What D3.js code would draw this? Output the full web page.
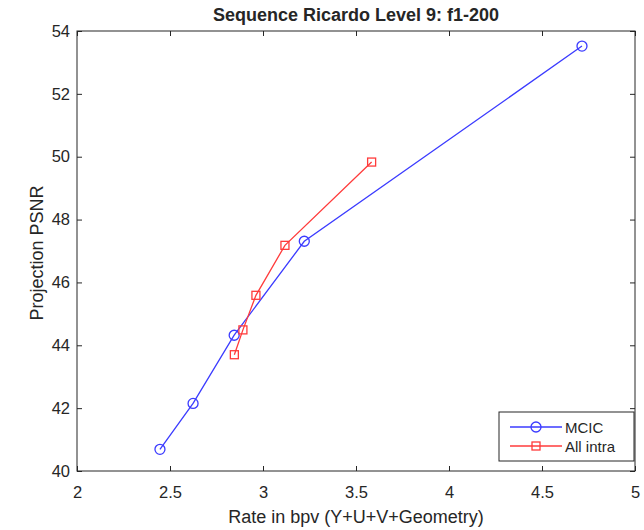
<!DOCTYPE html>
<html>
<head>
<meta charset="utf-8">
<script src="https://cdn.jsdelivr.net/npm/d3@7"></script>
<style>
  body { margin: 0; background: #fff; }
  text { font-family: "Liberation Sans", Arial, sans-serif; fill: #262626; }
</style>
</head>
<body>
<div id="chart"></div>
<script>
// Data
const mcicRate = [2.446, 2.624, 2.845, 3.222, 4.715];
const mcicPsnr = [40.69, 42.15, 44.32, 47.31, 53.52];
const intraRate = [2.846, 2.892, 2.962, 3.118, 3.584];
const intraPsnr = [43.70, 44.49, 45.59, 47.18, 49.83];
const xTicks = [2, 2.5, 3, 3.5, 4, 4.5, 5];
const yTicks = [40, 42, 44, 46, 48, 50, 52, 54];

(() => {
  const margin = { top: 31, right: 9, bottom: 59, left: 77 };
  const W = 644, H = 530;
  const width = W - margin.left - margin.right;
  const height = H - margin.top - margin.bottom;

  const svg = d3.select("#chart").append("svg")
    .attr("width", W).attr("height", H);
  const g = svg.append("g")
    .attr("transform", `translate(${margin.left},${margin.top})`);

  const x = d3.scaleLinear().domain([2, 5]).range([0, width]);
  const y = d3.scaleLinear().domain([40, 54]).range([height, 0]);

  const axisColor = "#262626";
  const tickLen = 5;

  // Box
  g.append("rect")
    .attr("width", width).attr("height", height)
    .attr("fill", "none").attr("stroke", axisColor).attr("stroke-width", 1);

  // Bottom axis (inward ticks) + top mirror ticks
  const xAxis = g.append("g")
    .attr("transform", `translate(0,${height})`)
    .call(d3.axisBottom(x).tickValues(xTicks).tickSizeInner(-tickLen).tickSizeOuter(0)
      .tickPadding(15).tickFormat(d3.format("")));
  xAxis.select(".domain").remove();
  xAxis.selectAll("line").attr("stroke", axisColor);
  xAxis.selectAll("text").style("font-size", "16.5px").attr("fill", axisColor);

  const xTop = g.append("g")
    .call(d3.axisTop(x).tickValues(xTicks).tickSizeInner(-tickLen).tickSizeOuter(0).tickFormat(""));
  xTop.select(".domain").remove();
  xTop.selectAll("line").attr("stroke", axisColor);

  // Left axis + right mirror ticks
  const yAxis = g.append("g")
    .call(d3.axisLeft(y).tickValues(yTicks).tickSizeInner(-tickLen).tickSizeOuter(0)
      .tickPadding(7));
  yAxis.select(".domain").remove();
  yAxis.selectAll("line").attr("stroke", axisColor);
  yAxis.selectAll("text").style("font-size", "16.5px").attr("fill", axisColor);

  const yRight = g.append("g")
    .attr("transform", `translate(${width},0)`)
    .call(d3.axisRight(y).tickValues(yTicks).tickSizeInner(-tickLen).tickSizeOuter(0).tickFormat(""));
  yRight.select(".domain").remove();
  yRight.selectAll("line").attr("stroke", axisColor);

  // Series
  const series = [
    { name: "MCIC", rate: mcicRate, psnr: mcicPsnr, color: "#3b3bff", marker: "circle" },
    { name: "All intra", rate: intraRate, psnr: intraPsnr, color: "#ff3b3b", marker: "square" }
  ];

  const line = d3.line().x(d => x(d[0])).y(d => y(d[1]));

  series.forEach(s => {
    const pts = s.rate.map((r, i) => [r, s.psnr[i]]);
    g.append("path")
      .datum(pts)
      .attr("d", line)
      .attr("fill", "none")
      .attr("stroke", s.color)
      .attr("stroke-width", 1.3);

    if (s.marker === "circle") {
      g.selectAll(null).data(pts).join("circle")
        .attr("cx", d => x(d[0])).attr("cy", d => y(d[1]))
        .attr("r", 5)
        .attr("fill", "none").attr("stroke", s.color).attr("stroke-width", 1.3);
    } else {
      g.selectAll(null).data(pts).join("rect")
        .attr("x", d => x(d[0]) - 4).attr("y", d => y(d[1]) - 4)
        .attr("width", 8).attr("height", 8)
        .attr("fill", "none").attr("stroke", s.color).attr("stroke-width", 1.3);
    }
  });

  // Title and labels
  svg.append("text")
    .attr("x", margin.left + width / 2).attr("y", 21)
    .attr("text-anchor", "middle")
    .style("font-size", "18px").style("font-weight", "bold")
    .text("Sequence Ricardo Level 9: f1-200");

  svg.append("text")
    .attr("x", margin.left + width / 2).attr("y", 523)
    .attr("text-anchor", "middle")
    .style("font-size", "18px")
    .text("Rate in bpv (Y+U+V+Geometry)");

  svg.append("text")
    .attr("transform", `translate(43,${margin.top + height / 2 + 2}) rotate(-90)`)
    .attr("text-anchor", "middle")
    .style("font-size", "18px")
    .text("Projection PSNR");

  // Legend
  const lg = svg.append("g").attr("transform", "translate(499,412)");
  lg.append("rect")
    .attr("width", 135).attr("height", 49)
    .attr("fill", "#fff").attr("stroke", axisColor).attr("stroke-width", 1);

  series.forEach((s, i) => {
    const cy = 15 + i * 19;
    const item = lg.append("g").attr("transform", `translate(0,${cy})`);
    item.append("line")
      .attr("x1", 11).attr("x2", 63).attr("y1", 0).attr("y2", 0)
      .attr("stroke", s.color).attr("stroke-width", 1.3);
    if (s.marker === "circle") {
      item.append("circle").attr("cx", 37).attr("cy", 0).attr("r", 5)
        .attr("fill", "none").attr("stroke", s.color).attr("stroke-width", 1.3);
    } else {
      item.append("rect").attr("x", 33).attr("y", -4).attr("width", 8).attr("height", 8)
        .attr("fill", "none").attr("stroke", s.color).attr("stroke-width", 1.3);
    }
    item.append("text")
      .attr("x", 66).attr("y", 5.5)
      .style("font-size", "15px")
      .attr("fill", "#000")
      .text(s.name);
  });
})();
</script>
</body>
</html>
